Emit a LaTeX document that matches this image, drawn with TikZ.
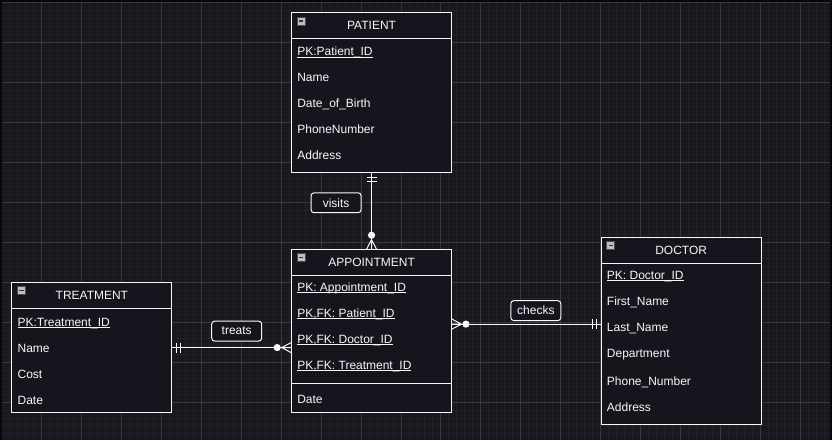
\documentclass[tikz,border=0pt]{standalone}
\usepackage{fontspec}
\setmainfont{Liberation Sans}
\usetikzlibrary{calc}
\definecolor{bgc}{RGB}{26,24,31}
\definecolor{minorc}{RGB}{35,33,41}
\definecolor{majorc}{RGB}{58,56,64}
\definecolor{boxc}{RGB}{24,20,29}
\definecolor{framec}{RGB}{8,8,10}
\definecolor{iconc}{RGB}{190,190,196}
\definecolor{textc}{RGB}{248,248,248}
\newcommand\myul[1]{\setbox0\hbox{#1}\rlap{\rule[-1.7pt]{\wd0}{0.9pt}}\box0}
\begin{document}
\begin{tikzpicture}[x=1pt,y=-1pt,
  font=\fontsize{12}{14}\selectfont,
  entity/.style={draw=textc, fill=boxc, line width=1pt, inner sep=0pt, anchor=north west, minimum width=160pt},
  divider/.style={draw=textc, line width=1pt},
  title/.style={text=textc, inner sep=0pt, anchor=base},
  row/.style={text=textc, inner sep=0pt, anchor=base west},
  icon/.style={draw=black!70, fill=iconc, line width=0.6pt, minimum size=8pt, inner sep=0pt,
    path picture={\draw[black!80, line width=1.3pt] ([xshift=1.8pt]path picture bounding box.west) -- ([xshift=-1.8pt]path picture bounding box.east);}},
  conn/.style={draw=textc, line width=1pt},
  rel/.style={draw=textc, fill=boxc, line width=1pt, rounded corners=3pt, text=textc, minimum width=50pt, minimum height=20pt, inner sep=0pt},
  mandone/.pic={\draw[conn] (4,-5) -- (4,5) (8.5,-5) -- (8.5,5);},
  zeromany/.pic={\draw[conn] (9.5,0) -- (0,-5) (9.5,0) -- (0,5) (9.5,0) -- (0,0);
                 \fill[textc] (14,0) circle (3.6pt);}
]
% background and grid
\fill[bgc] (0,0) rectangle (832,440);
\foreach \x in {1,9,...,832} \draw[minorc, line width=1pt] (\x,0) -- (\x,440);
\foreach \y in {2,10,...,440} \draw[minorc, line width=1pt] (0,\y) -- (832,\y);
\foreach \x in {1,41,...,832} \draw[majorc, line width=1pt] (\x,0) -- (\x,440);
\foreach \y in {2,42,...,440} \draw[majorc, line width=1pt] (0,\y) -- (832,\y);
\draw[framec, line width=2pt] (1,440) -- (1,1) -- (831,1) -- (831,440);

% PATIENT
\node[entity, minimum height=160pt] (patient) at (291,12) {};
\draw[divider] ([yshift=-26pt]patient.north west) -- ([yshift=-26pt]patient.north east);
\node[icon] (picon) at ([xshift=10pt,yshift=-8.5pt]patient.north west) {};
\node[title] (ptitle) at ([yshift=-17.5pt]patient.north) {PATIENT};
\node[row] (p1) at (297,55.5) {\myul{PK:Patient\_ID}};
\node[row] (p2) at (297,81.5) {Name};
\node[row] (p3) at (297,107.5) {Date\_of\_Birth};
\node[row] (p4) at (297,133.5) {PhoneNumber};
\node[row] (p5) at (297,159.5) {Address};

% APPOINTMENT
\node[entity, minimum height=163pt] (appt) at (291,249) {};
\draw[divider] ([yshift=-26pt]appt.north west) -- ([yshift=-26pt]appt.north east);
\draw[divider] ([yshift=30pt]appt.south west) -- ([yshift=30pt]appt.south east);
\node[icon] (aicon) at ([xshift=10pt,yshift=-8.5pt]appt.north west) {};
\node[title] (atitle) at ([yshift=-17.5pt]appt.north) {APPOINTMENT};
\node[row] (a1) at (297,291.5) {\myul{PK: Appointment\_ID}};
\node[row] (a2) at (297,317.5) {\myul{PK,FK: Patient\_ID}};
\node[row] (a3) at (297,343.5) {\myul{PK,FK: Doctor\_ID}};
\node[row] (a4) at (297,369.5) {\myul{PK,FK: Treatment\_ID}};
\node[row] (a5) at (297,403.5) {Date};

% TREATMENT
\node[entity, minimum height=130pt] (treat) at (11,282) {};
\draw[divider] ([yshift=-26pt]treat.north west) -- ([yshift=-26pt]treat.north east);
\node[icon] (ticon) at ([xshift=10pt,yshift=-8.5pt]treat.north west) {};
\node[title] (ttitle) at ([yshift=-17.5pt]treat.north) {TREATMENT};
\node[row] (t1) at (17,326.5) {\myul{PK:Treatment\_ID}};
\node[row] (t2) at (17,352.5) {Name};
\node[row] (t3) at (17,378.5) {Cost};
\node[row] (t4) at (17,404.5) {Date};

% DOCTOR
\node[entity, minimum height=187pt] (doctor) at (601,237) {};
\draw[divider] ([yshift=-26pt]doctor.north west) -- ([yshift=-26pt]doctor.north east);
\node[icon] (dicon) at ([xshift=10pt,yshift=-8.5pt]doctor.north west) {};
\node[title] (dtitle) at ([yshift=-17.5pt]doctor.north) {DOCTOR};
\node[row] (d1) at (607,279.5) {\myul{PK: Doctor\_ID}};
\node[row] (d2) at (607,305.5) {First\_Name};
\node[row] (d3) at (607,331.5) {Last\_Name};
\node[row] (d4) at (607,357.5) {Department};
\node[row] (d5) at (607,385.5) {Phone\_Number};
\node[row] (d6) at (607,411.5) {Address};

% visits
\draw[conn] (patient.south) -- (appt.north);
\pic[rotate=-90] at (patient.south) {mandone};
\pic[rotate=90] at (appt.north) {zeromany};
\node[rel] (visits) at (336,202.5) {visits};

% treats
\coordinate (trA) at (treat.east -| appt.west);
\draw[conn] (treat.east) -- (trA);
\pic at (treat.east) {mandone};
\pic[rotate=180] at (trA) {zeromany};
\node[rel] (treats) at (236.5,331) {treats};

% checks
\coordinate (chA) at ([yshift=7pt]appt.east);
\coordinate (chD) at (chA -| doctor.west);
\draw[conn] (chA) -- (chD);
\pic at (chA) {zeromany};
\pic[rotate=180] at (chD) {mandone};
\node[rel] (checks) at (536,310.5) {checks};
\end{tikzpicture}
\end{document}
